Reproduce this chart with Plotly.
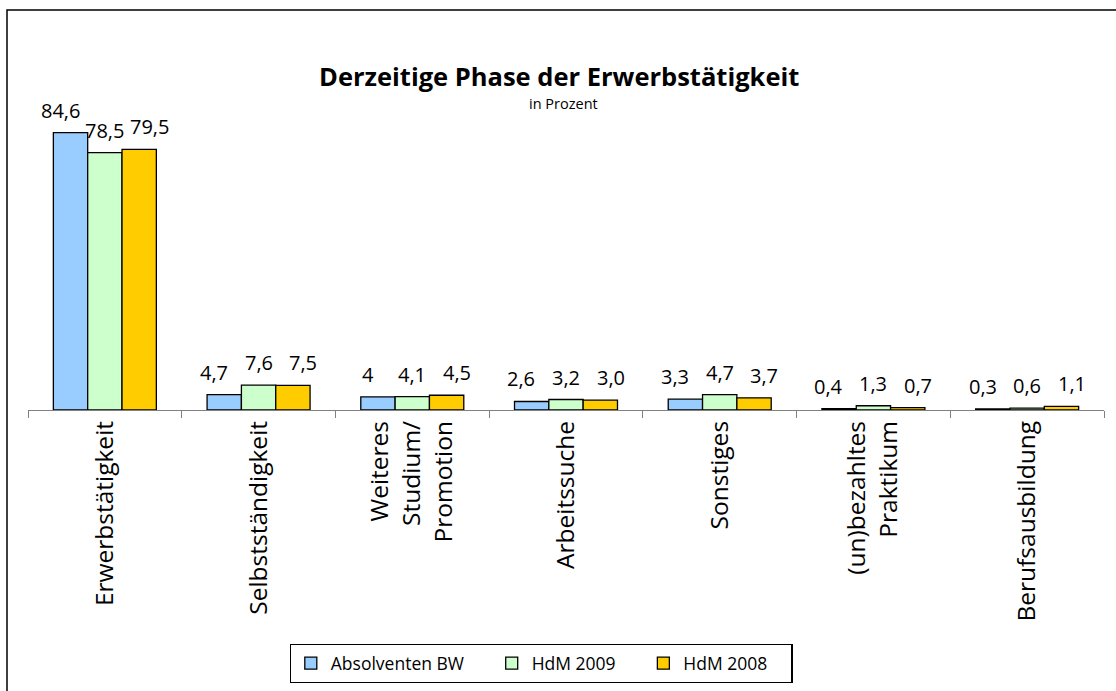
import plotly.graph_objects as go

categories = ["Erwerbstätigkeit", "Selbstständigkeit", "Weiteres<br>Studium/<br>Promotion",
              "Arbeitssuche", "Sonstiges", "(un)bezahltes<br>Praktikum", "Berufsausbildung"]
series_names = ["Absolventen BW", "HdM 2009", "HdM 2008"]
absolventen_bw = [84.6, 4.7, 4.0, 2.6, 3.3, 0.4, 0.3]
hdm_2009 = [78.5, 7.6, 4.1, 3.2, 4.7, 1.3, 0.6]
hdm_2008 = [79.5, 7.5, 4.5, 3.0, 3.7, 0.7, 1.1]
labels_bw = ["84,6", "4,7", "4", "2,6", "3,3", "0,4", "0,3"]
labels_2009 = ["78,5", "7,6", "4,1", "3,2", "4,7", "1,3", "0,6"]
labels_2008 = ["79,5", "7,5", "4,5", "3,0", "3,7", "0,7", "1,1"]
colors = ["#99CCFF", "#CCFFCC", "#FFCC00"]

FONT = "Open Sans"
W, H = 1116, 691
L, R, T, B = 28, 12, 115, 281
pw, ph = W - L - R, H - T - B
BARGAP = 0.33
NB = 3
LABEL_SPREAD = 1.3
cat_w = pw / len(categories)
bar_w = cat_w * (1 - BARGAP) / NB


def px_x(x):
    return (x - L) / pw


def px_y(y):
    return (H - B - y) / ph


NBSP = "\u00a0"
legend_pad = [5, 5, 4]

fig = go.Figure()
annotations = []
all_vals = [absolventen_bw, hdm_2009, hdm_2008]
all_labs = [labels_bw, labels_2009, labels_2008]
for i, (name, vals, labs, col) in enumerate(zip(series_names, all_vals, all_labs, colors)):
    fig.add_trace(go.Bar(
        name=name + NBSP * legend_pad[i], x=categories, y=vals,
        marker=dict(color=col, line=dict(color="black", width=1.3)),
    ))
    offset = (i - (NB - 1) / 2) * bar_w * LABEL_SPREAD
    for c, v, t in zip(categories, vals, labs):
        annotations.append(dict(
            x=c, y=v, xref="x", yref="y", text=t, showarrow=False,
            xanchor="center", yanchor="bottom", xshift=offset, yshift=7,
            font=dict(family=FONT, size=20, color="black"),
        ))

annotations += [
    dict(text="<b>Derzeitige Phase der Erwerbstätigkeit</b>", xref="paper", yref="paper",
         x=px_x(559), y=px_y(76), xanchor="center", yanchor="middle", showarrow=False,
         font=dict(family=FONT, size=25.5, color="black")),
    dict(text="in Prozent", xref="paper", yref="paper",
         x=px_x(563), y=px_y(103), xanchor="center", yanchor="middle", showarrow=False,
         font=dict(family=FONT, size=14.5, color="black")),
]

fig.update_layout(
    width=W, height=H,
    margin=dict(l=L, r=R, t=T, b=B),
    paper_bgcolor="white", plot_bgcolor="white",
    barmode="group", bargap=BARGAP, bargroupgap=0,
    font=dict(family=FONT, size=17, color="black"),
    showlegend=True,
    legend=dict(orientation="h", xref="container", yref="container",
                x=541 / W, y=(H - 644) / H, xanchor="center", yanchor="top",
                bordercolor="black", borderwidth=1.3, font=dict(family=FONT, size=17.5),
                itemwidth=30),
    xaxis=dict(showline=True, linecolor="#808080", linewidth=1.3, ticks="outside",
               tickson="boundaries", ticklen=7, tickcolor="#808080", tickangle=-90,
               tickfont=dict(family=FONT, size=24.5), showgrid=False),
    yaxis=dict(range=[0, 90], visible=False, showgrid=False),
    annotations=annotations,
    shapes=[
        dict(type="rect", xref="paper", yref="paper", x0=px_x(7), y0=px_y(10),
             x1=px_x(W + 20), y1=px_y(H + 20), line=dict(color="black", width=1.5),
             fillcolor="rgba(0,0,0,0)", layer="above"),
    ],
)

fig.write_html("out.html", config={"displayModeBar": False},
               post_script="document.body.style.margin='0';")
